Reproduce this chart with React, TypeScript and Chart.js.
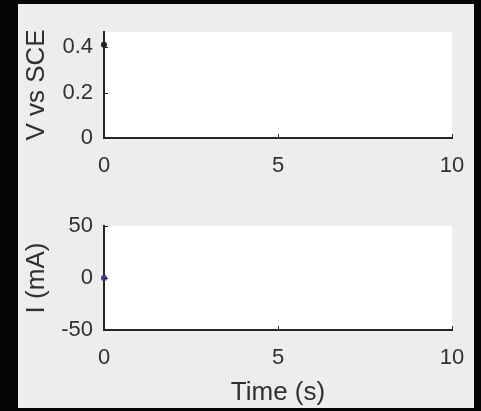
import React, { useEffect, useRef } from "react";
import { Chart, registerables } from "chart.js";

Chart.register(...registerables);

// ---- data ----
const timeTicks = [0, 5, 10];
const voltageTicks = [0, 0.2, 0.4];
const currentTicks = [-50, 0, 50];
const timeV = [0];
const voltage = [0.41];
const timeI = [0];
const current = [0];

const FONT = "'Liberation Sans', Arial, Helvetica, sans-serif";
const AXIS = "#262626";
const TEXT = "#303030";

const plotBg = {
  id: "plotBg",
  beforeDraw(chart: any) {
    const { ctx, chartArea: a } = chart;
    ctx.save();
    ctx.fillStyle = "#ffffff";
    ctx.fillRect(a.left, a.top, a.right - a.left, a.bottom - a.top);
    ctx.restore();
  },
};

const innerTicks = {
  id: "innerTicks",
  afterDatasetsDraw(chart: any) {
    const { ctx, chartArea: a, scales } = chart;
    ctx.save();
    ctx.strokeStyle = AXIS;
    ctx.lineWidth = 1;
    scales.x.ticks.forEach((t: any) => {
      const px = Math.round(scales.x.getPixelForValue(t.value)) + 0.5;
      ctx.beginPath();
      ctx.moveTo(px, a.bottom);
      ctx.lineTo(px, a.bottom - 4);
      ctx.stroke();
    });
    scales.y.ticks.forEach((t: any) => {
      const py = Math.round(scales.y.getPixelForValue(t.value)) + 0.5;
      ctx.beginPath();
      ctx.moveTo(a.left, py);
      ctx.lineTo(a.left + 4, py);
      ctx.stroke();
    });
    ctx.restore();
  },
};

function makeConfig(o: {
  xs: number[];
  ys: number[];
  yMin: number;
  yMax: number;
  yTicks: number[];
  yTitle: string;
  xTitle?: string;
  color: string;
  padTop: number;
  xHeight: number;
}) {
  return {
    type: "scatter" as const,
    data: {
      datasets: [
        {
          data: o.xs.map((x, i) => ({ x, y: o.ys[i] })),
          showLine: true,
          borderColor: o.color,
          backgroundColor: o.color,
          pointRadius: 3,
          pointBorderWidth: 0,
          borderWidth: 1.5,
          clip: false,
        },
      ],
    },
    options: {
      responsive: false,
      animation: false,
      devicePixelRatio: 1,
      layout: { padding: { left: 0, right: 22, top: o.padTop, bottom: 0 } },
      plugins: { legend: { display: false }, tooltip: { enabled: false } },
      scales: {
        x: {
          type: "linear",
          min: 0,
          max: 10,
          afterBuildTicks: (s: any) => {
            s.ticks = timeTicks.map((v) => ({ value: v }));
          },
          afterFit: (s: any) => {
            s.height = o.xHeight;
          },
          grid: { display: false },
          border: { display: true, color: AXIS, width: 2 },
          ticks: {
            color: TEXT,
            font: { family: FONT, size: 22 },
            padding: 7,
            maxRotation: 0,
            autoSkip: false,
          },
          title: {
            display: !!o.xTitle,
            text: o.xTitle || "",
            color: TEXT,
            font: { family: FONT, size: 26 },
            padding: { top: 0, bottom: 0 },
          },
        },
        y: {
          type: "linear",
          min: o.yMin,
          max: o.yMax,
          afterBuildTicks: (s: any) => {
            s.ticks = o.yTicks.map((v) => ({ value: v }));
          },
          afterFit: (s: any) => {
            s.width = 86;
          },
          grid: { display: false },
          border: { display: true, color: AXIS, width: 2 },
          ticks: {
            color: TEXT,
            font: { family: FONT, size: 22 },
            padding: 3,
            autoSkip: false,
          },
          title: {
            display: true,
            text: o.yTitle,
            color: TEXT,
            font: { family: FONT, size: 26 },
            padding: { top: 3, bottom: 0 },
          },
        },
      },
    },
    plugins: [plotBg, innerTicks],
  };
}

function Panel(props: { cfg: any; width: number; height: number; top: number }) {
  const ref = useRef<HTMLCanvasElement>(null);
  useEffect(() => {
    const chart = new Chart(ref.current as HTMLCanvasElement, props.cfg);
    return () => chart.destroy();
  }, []);
  return (
    <canvas
      ref={ref}
      width={props.width}
      height={props.height}
      style={{
        position: "absolute",
        left: 0,
        top: props.top,
        width: props.width,
        height: props.height,
        display: "block",
      }}
    />
  );
}

export default function App() {
  const topCfg = makeConfig({
    xs: timeV,
    ys: voltage,
    yMin: 0,
    yMax: 0.466,
    yTicks: voltageTicks,
    yTitle: "V vs SCE",
    color: "#1f1f2a",
    padTop: 28,
    xHeight: 56,
  });
  const botCfg = makeConfig({
    xs: timeI,
    ys: current,
    yMin: -50,
    yMax: 50,
    yTicks: currentTicks,
    yTitle: "I (mA)",
    xTitle: "Time (s)",
    color: "#3a3a8c",
    padTop: 32,
    xHeight: 78,
  });
  return (
    <div
      style={{
        position: "fixed",
        left: 0,
        top: 0,
        width: 481,
        height: 411,
        background: "#050505",
        overflow: "hidden",
      }}
    >
      <div
        style={{
          position: "absolute",
          left: 18,
          top: 4,
          width: 456,
          height: 404,
          background: "#ededed",
        }}
      >
        <Panel cfg={topCfg} width={456} height={190} top={0} />
        <Panel cfg={botCfg} width={456} height={214} top={190} />
      </div>
    </div>
  );
}
